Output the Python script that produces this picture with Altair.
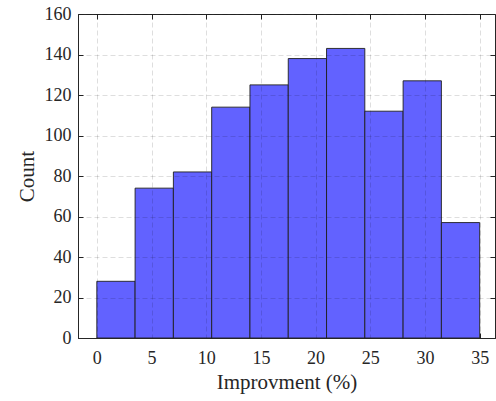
import altair as alt
import pandas as pd

bin_start = [0, 3.5, 7, 10.5, 14, 17.5, 21, 24.5, 28, 31.5]
bin_end = [3.5, 7, 10.5, 14, 17.5, 21, 24.5, 28, 31.5, 35]
counts = [28, 74, 82, 114, 125, 138, 143, 112, 127, 57]
x_ticks = [0, 5, 10, 15, 20, 25, 30, 35]
y_ticks = [0, 20, 40, 60, 80, 100, 120, 140, 160]

df = pd.DataFrame({"start": bin_start, "end": bin_end, "count": counts})

FONT = "Liberation Serif"
TXT = "#262626"

xs = alt.Scale(domain=[-1.72, 36.4], nice=False, zero=False)
ys = alt.Scale(domain=[0, 160], nice=False, zero=True)

def tick_axis(orient):
    return alt.Axis(orient=orient, values=x_ticks if orient in ("bottom", "top") else y_ticks,
                    labels=False, domain=False, grid=False, ticks=True, tickSize=5,
                    tickColor=TXT, tickWidth=1, offset=-5, title=None)

bars = alt.Chart(df).mark_rect(color="#6262ff", stroke="#1f1f1f", strokeWidth=0.9).encode(
    x=alt.X("start:Q", scale=xs, axis=alt.Axis(
        orient="bottom", values=x_ticks, title="Improvment (%)", grid=True, ticks=False,
        domain=True, domainColor=TXT, labelPadding=11, titlePadding=4, zindex=1,
        gridColor="#000", gridOpacity=0.13, gridDash=[5, 3])),
    x2="end:Q",
    y=alt.Y("count:Q", scale=ys, axis=alt.Axis(
        orient="left", values=y_ticks, title="Count", grid=True, ticks=False,
        domain=True, domainColor=TXT, labelPadding=7, titlePadding=7, zindex=1,
        gridColor="#000", gridOpacity=0.13, gridDash=[5, 3])),
    y2=alt.datum(0),
)

t1 = alt.Chart(df).mark_rect(opacity=0).encode(
    x=alt.X("start:Q", scale=xs, axis=tick_axis("bottom")),
    x2="end:Q",
    y=alt.Y("count:Q", scale=ys, axis=tick_axis("left")),
    y2=alt.datum(0),
)
t2 = alt.Chart(df).mark_rect(opacity=0).encode(
    x=alt.X("start:Q", scale=xs, axis=tick_axis("top")),
    x2="end:Q",
    y=alt.Y("count:Q", scale=ys, axis=tick_axis("right")),
    y2=alt.datum(0),
)

chart = alt.layer(bars, t1, t2).resolve_axis(x="independent", y="independent").properties(
    width=417, height=324, autosize="none", background="white",
    padding={"left": 78, "top": 14, "right": 1, "bottom": 63},
).configure(
    view=alt.ViewConfig(stroke=TXT, strokeWidth=1),
    axis=alt.AxisConfig(
        labelFont=FONT, labelFontSize=18, labelColor=TXT,
        titleFont=FONT, titleFontSize=21, titleFontWeight="normal", titleColor=TXT,
    ),
)

chart.save("out.html", embed_options={"renderer": "svg", "actions": False})
